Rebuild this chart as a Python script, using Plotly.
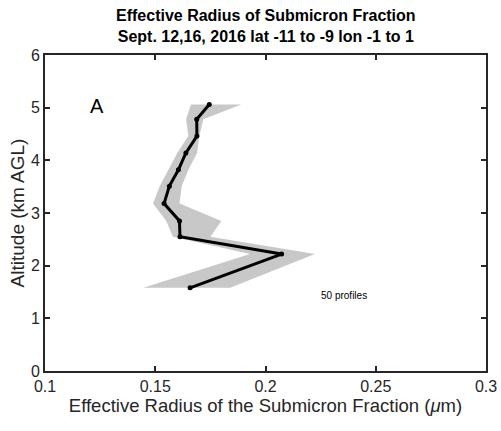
import plotly.graph_objects as go

altitude = [1.58, 2.22, 2.55, 2.85, 3.18, 3.51, 3.82, 4.14, 4.46, 4.78, 5.06]
mean_radius = [0.1658, 0.2073, 0.1612, 0.1610, 0.1540, 0.1564, 0.1605, 0.1639, 0.1689, 0.1688, 0.1745]
lower_radius = [0.1446, 0.1930, 0.1580, 0.1550, 0.1490, 0.1520, 0.1560, 0.1600, 0.1650, 0.1640, 0.1662]
upper_radius = [0.1840, 0.2224, 0.1750, 0.1800, 0.1610, 0.1620, 0.1650, 0.1690, 0.1700, 0.1718, 0.1890]

x_ticks = [0.1, 0.15, 0.2, 0.25, 0.3]
x_tick_labels = ["0.1", "0.15", "0.2", "0.25", "0.3"]
y_ticks = [0, 1, 2, 3, 4, 5, 6]

fig = go.Figure()
fig.add_trace(go.Scatter(
    x=upper_radius + lower_radius[::-1],
    y=altitude + altitude[::-1],
    fill="toself", fillcolor="#c8c8c8", line=dict(width=0),
    mode="lines", hoverinfo="skip", showlegend=False))
fig.add_trace(go.Scatter(
    x=mean_radius, y=altitude, mode="lines+markers",
    line=dict(color="black", width=3),
    marker=dict(color="black", size=5), showlegend=False))

font = "Liberation Sans, Arial, sans-serif"
fig.add_annotation(x=0.1236, y=5.03, text="A", showarrow=False,
                   font=dict(family=font, size=20, color="black"))
fig.add_annotation(x=0.2354, y=1.43, text="50 profiles", showarrow=False,
                   font=dict(family=font, size=10, color="black"))
fig.add_annotation(xref="paper", yref="paper", x=0.5, y=1.0, yshift=8,
                   xanchor="center", yanchor="bottom", showarrow=False,
                   text="<b>Effective Radius of Submicron Fraction<br>Sept. 12,16, 2016 lat -11 to -9 lon -1 to 1</b>",
                   font=dict(family=font, size=16, color="black"))

fig.update_layout(
    width=501, height=431,
    margin=dict(l=45, r=15, t=55, b=60, autoexpand=False),
    paper_bgcolor="white", plot_bgcolor="white",
    font=dict(family=font, color="#262626"),
)
fig.update_xaxes(range=[0.1, 0.3], tickvals=x_ticks, ticktext=x_tick_labels, automargin=False,
                 showgrid=False, zeroline=False, showline=True, linecolor="#262626",
                 linewidth=2, mirror="ticks", ticks="inside", ticklen=5, tickwidth=2,
                 tickcolor="#262626", tickfont=dict(size=16, color="#262626"),
                 title=dict(text="Effective Radius of the Submicron Fraction (<i>μ</i>m)",
                            font=dict(size=18.5, color="#262626"), standoff=2))
fig.update_yaxes(range=[0, 6], tickvals=y_ticks, automargin=False,
                 showgrid=False, zeroline=False, showline=True, linecolor="#262626",
                 linewidth=2, mirror="ticks", ticks="inside", ticklen=5, tickwidth=2,
                 tickcolor="#262626", tickfont=dict(size=16, color="#262626"),
                 title=dict(text="Altitude (km AGL)",
                            font=dict(size=19, color="#262626"), standoff=1))

fig.write_html("out.html", config={"displayModeBar": False},
               post_script="document.body.style.margin='0px';document.body.style.overflow='hidden';")
